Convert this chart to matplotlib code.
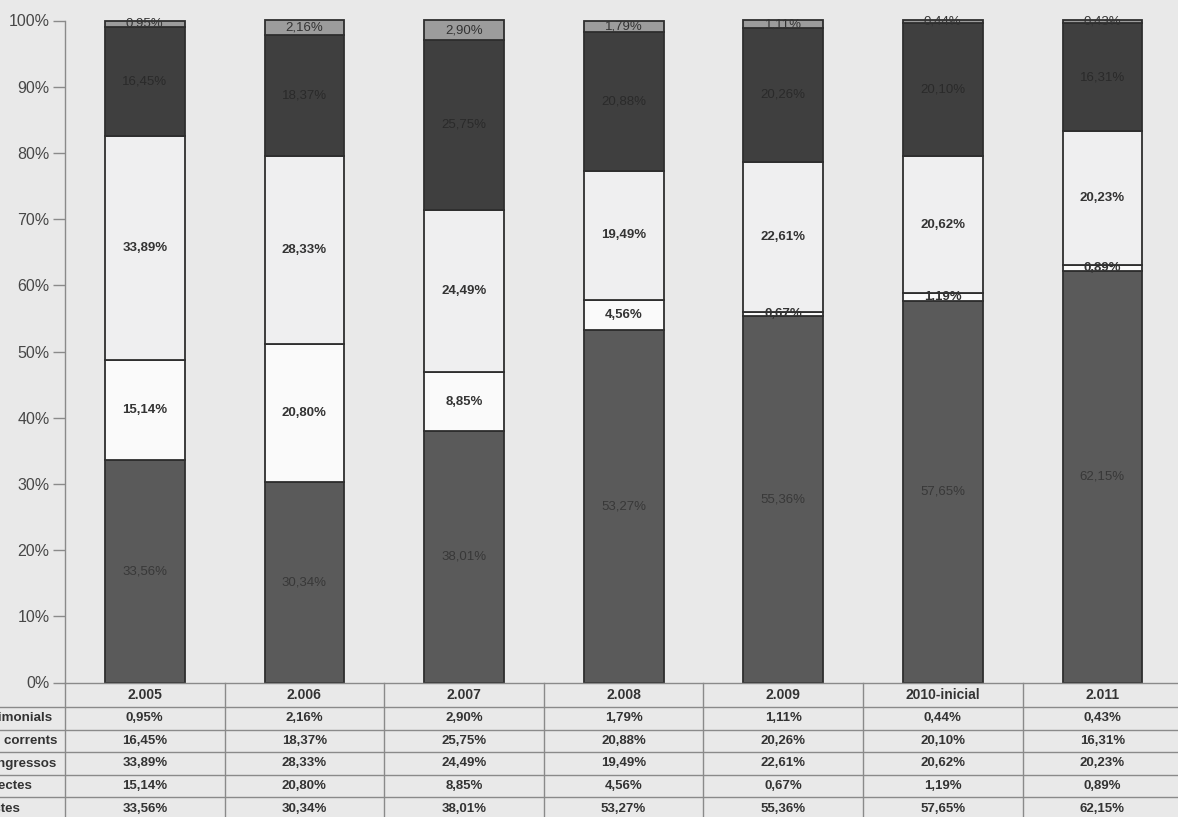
import matplotlib
matplotlib.use("Agg")
import matplotlib.pyplot as plt
import numpy as np

# data
years = ['2.005', '2.006', '2.007', '2.008', '2.009', '2010-inicial', '2.011']
row_labels = ['Ingressos patrimonials', 'Transferències corrents',
              'Taxes i altres ingressos', 'Impostos indirectes', 'Impostos directes']
patrimonials = [0.95, 2.16, 2.90, 1.79, 1.11, 0.44, 0.43]
corrents = [16.45, 18.37, 25.75, 20.88, 20.26, 20.10, 16.31]
ingressos = [33.89, 28.33, 24.49, 19.49, 22.61, 20.62, 20.23]
indirectes = [15.14, 20.80, 8.85, 4.56, 0.67, 1.19, 0.89]
directes = [33.56, 30.34, 38.01, 53.27, 55.36, 57.65, 62.15]

# stacked from bottom to top
stack = [directes, indirectes, ingressos, corrents, patrimonials]
fills = ['#5a5a5a', '#fafafa', '#efeff0', '#3f3f3f', '#9c9c9c']
txt_colors = ['#383838', '#333333', '#333333', '#2a2a2a', '#333333']
txt_weights = ['normal', 'bold', 'bold', 'normal', 'normal']

# table rows are listed top of stack first
table_rows = [patrimonials, corrents, ingressos, indirectes, directes]


def fmt(v):
    return f"{v:.2f}".replace('.', ',') + '%'


plt.rcParams['font.family'] = ['Liberation Sans', 'DejaVu Sans']

W, H = 1178, 817
fig = plt.figure(figsize=(W / 100, H / 100), dpi=100)
fig.patch.set_facecolor('#e9e9e9')

left_px, col_px = 65, 159.6
zero_px, top_px = 682.5, 20.5
n = len(years)
x = np.arange(n)

ax = fig.add_axes([left_px / W, (H - zero_px) / H, n * col_px / W, (zero_px - top_px) / H])
ax.set_facecolor('none')

bottom = np.zeros(n)
for vals, fc, tc, tw in zip(stack, fills, txt_colors, txt_weights):
    vals = np.array(vals)
    ax.bar(x, vals, width=0.5, bottom=bottom, color=fc, edgecolor='#2e2e2e',
           linewidth=1.3, clip_on=False, zorder=3)
    for i in range(n):
        ax.text(x[i], bottom[i] + vals[i] / 2, fmt(vals[i]), ha='center', va='center',
                fontsize=9.5, color=tc, fontweight=tw, zorder=4)
    bottom += vals

ax.set_xlim(-0.5, n - 0.5)
ax.set_ylim(0, 100)
ax.set_yticks(range(0, 101, 10))
ax.set_yticklabels([f"{t}%" for t in range(0, 101, 10)], fontsize=11.5, color='#474747')
ax.tick_params(axis='y', length=9, width=1, color='#8a8a8a', pad=2)
ax.set_xticks([])
for s in ['top', 'right', 'bottom']:
    ax.spines[s].set_visible(False)
ax.spines['left'].set_color('#8a8a8a')
ax.spines['left'].set_linewidth(1)

# data table under the bars
tab = fig.add_axes([left_px / W, 0, n * col_px / W, (H - zero_px) / H])
tab.set_facecolor('none')
tab.set_xlim(-0.5, n - 0.5)
bottom_px = H - zero_px
tab.set_ylim(bottom_px, 0)
tab.axis('off')

grid = '#8a8a8a'
header_h, row_h = 24.5, 22.6
bounds = [header_h + k * row_h for k in range(len(table_rows) + 1)]

tab.plot([-0.5, n - 0.5], [0, 0], color=grid, lw=1, clip_on=False)
for b in bounds:
    tab.plot([-1.0, n - 0.5], [b, b], color=grid, lw=1, clip_on=False)
for k in range(n + 1):
    tab.plot([k - 0.5, k - 0.5], [0, bottom_px + 5], color=grid, lw=1, clip_on=False)

for i, yr in enumerate(years):
    tab.text(i, header_h / 2, yr, ha='center', va='center', fontsize=10,
             fontweight='bold', color='#333333')

# row labels are left aligned and start beyond the left edge of the picture
label_x = -0.5 - (left_px + 93.6) / col_px
for r, (lab, vals) in enumerate(zip(row_labels, table_rows)):
    yc = header_h + r * row_h + row_h / 2
    tab.text(label_x, yc, lab, ha='left', va='center', fontsize=9.6,
             fontweight='bold', color='#333333')
    for i in range(n):
        tab.text(i, yc, fmt(vals[i]), ha='center', va='center', fontsize=9.5,
                 fontweight='bold', color='#333333')

plt.savefig("out.png", dpi=100, facecolor=fig.get_facecolor())
